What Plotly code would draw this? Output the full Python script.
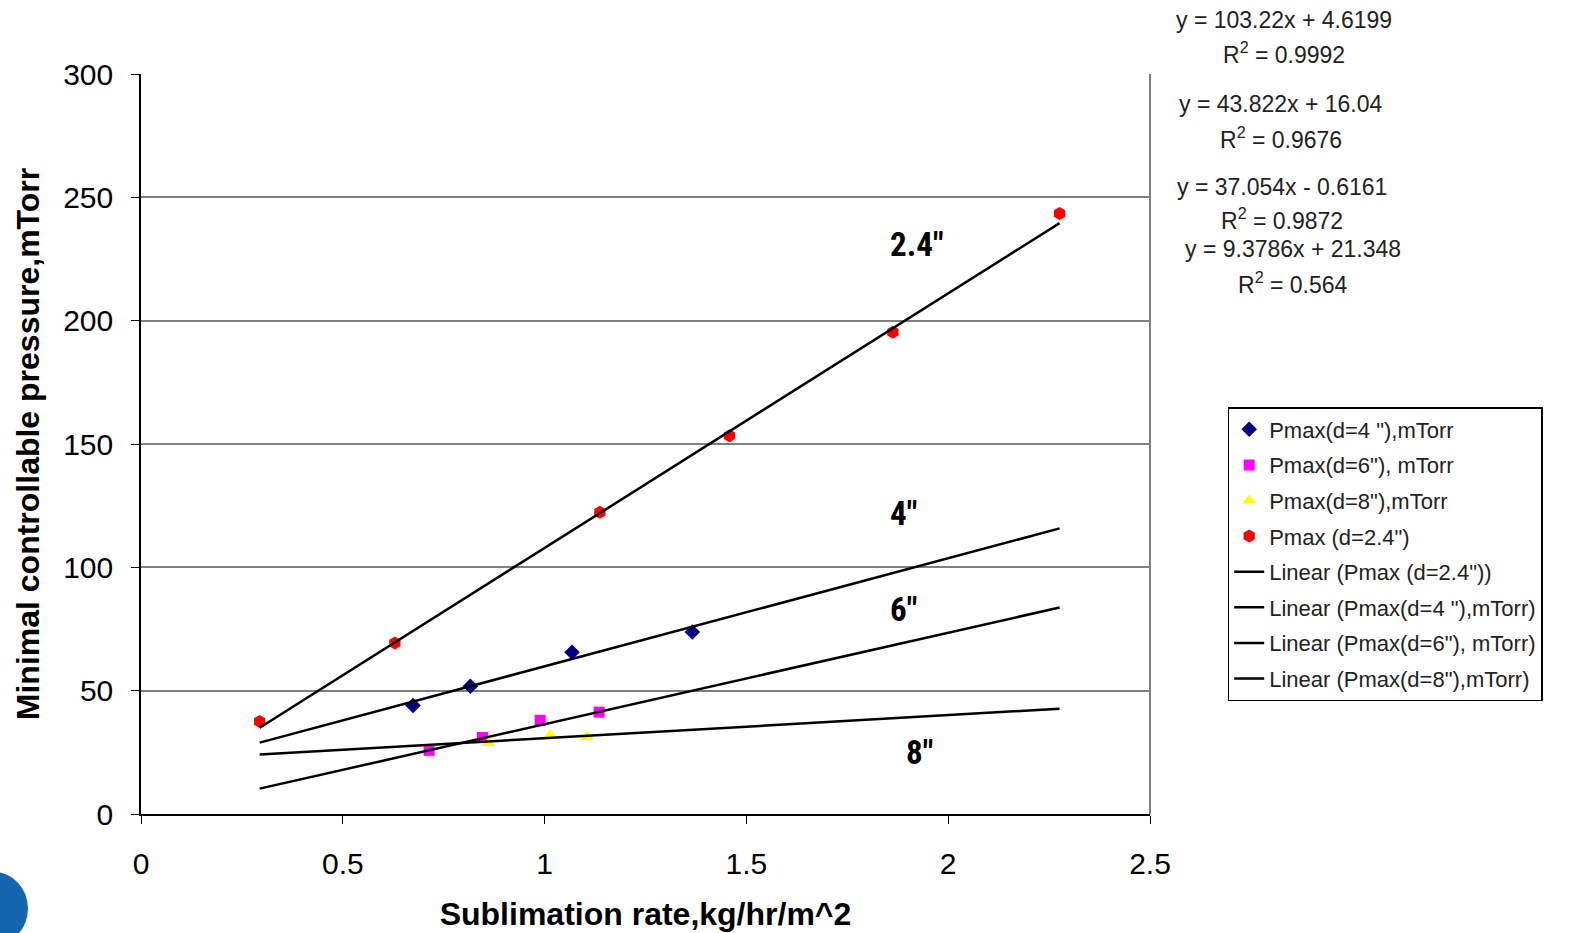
import plotly.graph_objects as go

# Measured data: sublimation rate (kg/hr/m^2) vs minimal controllable pressure (mTorr)
x_d24 = [0.294, 0.629, 1.137, 1.458, 1.863, 2.276]
y_d24 = [37.5, 69.3, 122.3, 153.3, 195.3, 243.4]

x_d4 = [0.674, 0.816, 1.068, 1.366]
y_d4 = [44.0, 51.8, 65.6, 73.8]

x_d6 = [0.714, 0.846, 0.989, 1.135]
y_d6 = [25.8, 31.0, 38.0, 41.3]

x_d8 = [0.861, 1.014, 1.105]
y_d8 = [28.8, 32.0, 31.2]

# Linear trendline coefficients (slope, intercept) and R^2
fit_d24 = (103.22, 4.6199, 0.9992)
fit_d4 = (43.822, 16.04, 0.9676)
fit_d6 = (37.054, -0.6161, 0.9872)
fit_d8 = (9.3786, 21.348, 0.564)

# Trendlines span the overall sublimation-rate range
trend_x = [min(x_d24), max(x_d24)]

x_ticks = [0, 0.5, 1, 1.5, 2, 2.5]
x_tick_text = ["0", "0.5", "1", "1.5", "2", "2.5"]
y_ticks = [0, 50, 100, 150, 200, 250, 300]

NARROW = "Liberation Sans Narrow, Arial Narrow, Roboto Condensed, Liberation Sans, Arial, sans-serif"
BASE = "Liberation Sans, Arial, sans-serif"

fig = go.Figure()

fig.add_trace(go.Scatter(x=x_d4, y=y_d4, mode="markers", name="Pmax(d=4 \"),mTorr", legendgroup="a",
                         marker=dict(symbol="diamond", size=12, color="#000080")))
fig.add_trace(go.Scatter(x=x_d6, y=y_d6, mode="markers", name="Pmax(d=6\"), mTorr", legendgroup="b",
                         marker=dict(symbol="square", size=11, color="#FF00FF")))
fig.add_trace(go.Scatter(x=x_d8, y=y_d8, mode="markers", name="Pmax(d=8\"),mTorr", legendgroup="c",
                         marker=dict(symbol="triangle-up", size=12, color="#FFFF00")))
fig.add_trace(go.Scatter(x=x_d24, y=y_d24, mode="markers", name="Pmax (d=2.4\")", legendgroup="d",
                         marker=dict(symbol="hexagon", size=13, color="#FF0000")))


def trend(fit):
    a, b, _ = fit
    return [a * v + b for v in trend_x]


for fit, name, grp in [(fit_d24, "Linear (Pmax (d=2.4\"))", "e"),
                       (fit_d4, "Linear (Pmax(d=4 \"),mTorr)", "f"),
                       (fit_d6, "Linear (Pmax(d=6\"), mTorr)", "g"),
                       (fit_d8, "Linear (Pmax(d=8\"),mTorr)", "h")]:
    fig.add_trace(go.Scatter(x=trend_x, y=trend(fit), mode="lines", name=name, legendgroup=grp,
                             line=dict(color="black", width=2.5)))

# Curve labels
for txt, xv, yv in [("2.4\"", 1.923, 231), ("4\"", 1.888, 122), ("6\"", 1.888, 83), ("8\"", 1.93, 25)]:
    fig.add_annotation(x=xv, y=yv, text="<b>" + txt + "</b>", showarrow=False,
                       font=dict(family=NARROW, size=33, color="black"))

# Trendline equations
def eq_text(fit):
    a, b, _ = fit
    sign = "+" if b >= 0 else "-"
    return f"y = {a:g}x {sign} {abs(b):g}"


eq_pos = [(fit_d24, 1284, 20, 53), (fit_d4, 1281, 104, 138),
          (fit_d6, 1282, 187, 219), (fit_d8, 1293, 249, 283)]
for fit, px, py1, py2 in eq_pos:
    fig.add_annotation(xref="paper", yref="paper", x=(px - 141) / 1009, y=(814 - py1) / 740,
                       text=eq_text(fit), showarrow=False, xanchor="center", yanchor="middle",
                       font=dict(family=BASE, size=23, color="#222222"))
    fig.add_annotation(xref="paper", yref="paper", x=(px - 141) / 1009, y=(814 - py2) / 740,
                       text=f"R<sup>2</sup> = {fit[2]:g}", showarrow=False, xanchor="center",
                       yanchor="middle", font=dict(family=BASE, size=23, color="#222222"))

# Corner logo fragment
fig.add_shape(type="circle", xref="paper", yref="paper",
              x0=(-40 - 141) / 1009, x1=(28 - 141) / 1009,
              y0=(814 - 945) / 740, y1=(814 - 872) / 740,
              fillcolor="#1565b0", line=dict(width=0), layer="above")

fig.update_layout(
    width=1575, height=933,
    margin=dict(l=141, r=425, t=74, b=119),
    paper_bgcolor="white", plot_bgcolor="white",
    font=dict(family=BASE, color="black"),
    legend=dict(x=1.077, y=(814 - 407) / 740, xanchor="left", yanchor="top",
                bordercolor="black", borderwidth=1.5, bgcolor="white",
                font=dict(family=BASE, size=22, color="#222222"),
                tracegroupgap=4, itemwidth=30),
    xaxis=dict(range=[0, 2.5], tickvals=x_ticks, ticktext=x_tick_text, automargin=False,
               showgrid=False, zeroline=False, showline=True, linecolor="black", linewidth=1.5,
               mirror=False, ticks="outside", ticklen=8, tickcolor="black",
               ticklabelstandoff=14,
               tickfont=dict(size=30, family=BASE),
               title=dict(text="<b>Sublimation rate,kg/hr/m^2</b>", font=dict(size=32, family=BASE),
                          standoff=24)),
    yaxis=dict(range=[0, 300], tickvals=y_ticks, automargin=False,
               showgrid=True, gridcolor="#7f7f7f", gridwidth=2,
               zeroline=False, showline=True, linecolor="black", linewidth=1.5,
               ticks="outside", ticklen=8, tickcolor="black",
               ticklabelstandoff=12,
               tickfont=dict(size=30, family=BASE),
               title=dict(text="<b>Minimal controllable pressure,mTorr</b>", font=dict(size=32, family=BASE),
                          standoff=14)),
)

# Right-hand plot border
fig.add_shape(type="line", xref="paper", yref="paper", x0=1, x1=1, y0=0, y1=1,
              line=dict(color="#7f7f7f", width=2))

fig.write_html("out.html")
